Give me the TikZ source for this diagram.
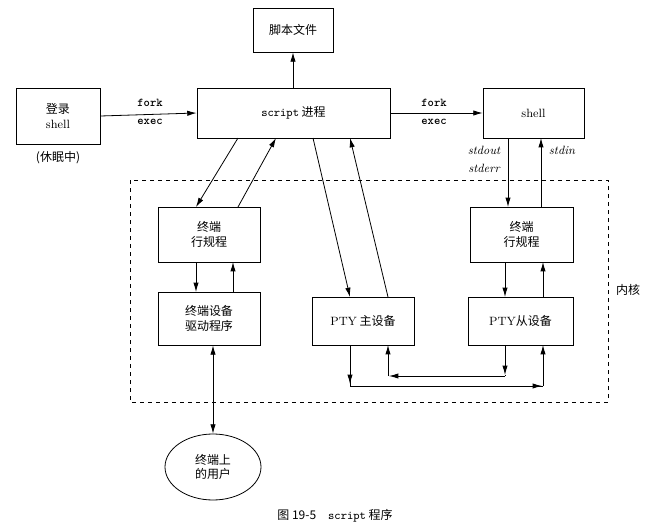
\documentclass[tikz,border=0pt]{standalone}
\usepackage{fontspec}
\newfontfamily\cjk{Noto Sans CJK SC}
\usetikzlibrary{arrows.meta,shapes.geometric}
\begin{document}
\begin{tikzpicture}[x=0.75pt,y=-0.75pt,
  box/.style={draw,semithick,minimum width=#1,inner sep=0pt,align=center,font=\cjk\small},
  a/.style={-{Latex[length=7pt,width=4pt]},semithick},
  lbl/.style={font=\ttfamily\bfseries\small},
  io/.style={font=\itshape\small}]
\useasboundingbox (0,0) rectangle (669,532);
\node[box=84pt*0.75,minimum height=56*0.75pt] (login) at (58,116) {登录\\{\rmfamily shell}};
\node[font=\cjk\small] (sleep) at (58,158) {(休眠中)};
\node[box=193*0.75pt,minimum height=50*0.75pt] (script) at (293.5,113) {{\ttfamily script} 进程};
\node[box=80*0.75pt,minimum height=44*0.75pt] (file) at (293,30) {脚本文件};
\node[box=101*0.75pt,minimum height=50*0.75pt] (shell) at (533.5,113) {\rmfamily shell};
\draw[dashed] (130,180) rectangle (608,402);
\node[font=\cjk\small] (kern) at (628,290) {内核};
\node[box=102*0.75pt,minimum height=55*0.75pt] (ldl) at (209,234.5) {终端\\行规程};
\node[box=103*0.75pt,minimum height=55*0.75pt] (ldr) at (521.5,234.5) {终端\\行规程};
\node[box=102*0.75pt,minimum height=53*0.75pt] (drv) at (209,318.5) {终端设备\\驱动程序};
\node[box=102*0.75pt,minimum height=48*0.75pt] (ptm) at (363,321) {{\rmfamily PTY} 主设备};
\node[box=105*0.75pt,minimum height=48*0.75pt] (pts) at (520.5,321) {{\rmfamily PTY}从设备};
\node[draw,semithick,ellipse,minimum width=96*0.75pt,minimum height=66*0.75pt,align=center,font=\cjk\small] (user) at (213,467) {终端上\\的用户};
\node[font=\cjk\small] (cap) at (335,516) {图 19-5\quad{\ttfamily script} 程序};
\node[lbl] (fork1) at (150,103) {fork};
\node[lbl] (exec1) at (150,122) {exec};
\node[lbl] (fork2) at (434,103) {fork};
\node[lbl] (exec2) at (434,122) {exec};
\node[io] (so) at (484,150) {stdout};
\node[io] (se) at (484,168) {stderr};
\node[io] (si) at (562,150) {stdin};
\draw[a] (login.east) -- (script.west);
\draw[a] (script.east) -- (shell.west);
\draw[a] (script.north -| file) -- (file.south);
\draw[a] (238,138) -- (196,207);
\draw[a] (238,207) -- (276,138);
\draw[a] (313,138) -- (350,297);
\draw[a] (388,297) -- (350,138);
\draw[a] (508,138) -- (508,207);
\draw[a] (541,207) -- (541,138);
\draw[a] (196,262) -- (196,292);
\draw[a] (233,292) -- (233,262);
\draw[a] (505,262) -- (505,297);
\draw[a] (543,297) -- (543,262);
\draw[{Latex[length=7pt,width=4pt]}-{Latex[length=7pt,width=4pt]},semithick] (drv.south -| user) -- (user.north);
\draw[semithick] (350,345) -- (350,386) -- (543,386);
\draw[a] (350,345) -- (350,384);
\draw[a] (350,386) -- (542,386);
\draw[a] (543,386) -- (543,345);
\draw[a] (505,345) -- (505,375);
\draw[semithick] (505,375) -- (505,376);
\draw[a] (505,376) -- (389,376);
\draw[a] (388,376) -- (388,345);
\end{tikzpicture}
\end{document}
